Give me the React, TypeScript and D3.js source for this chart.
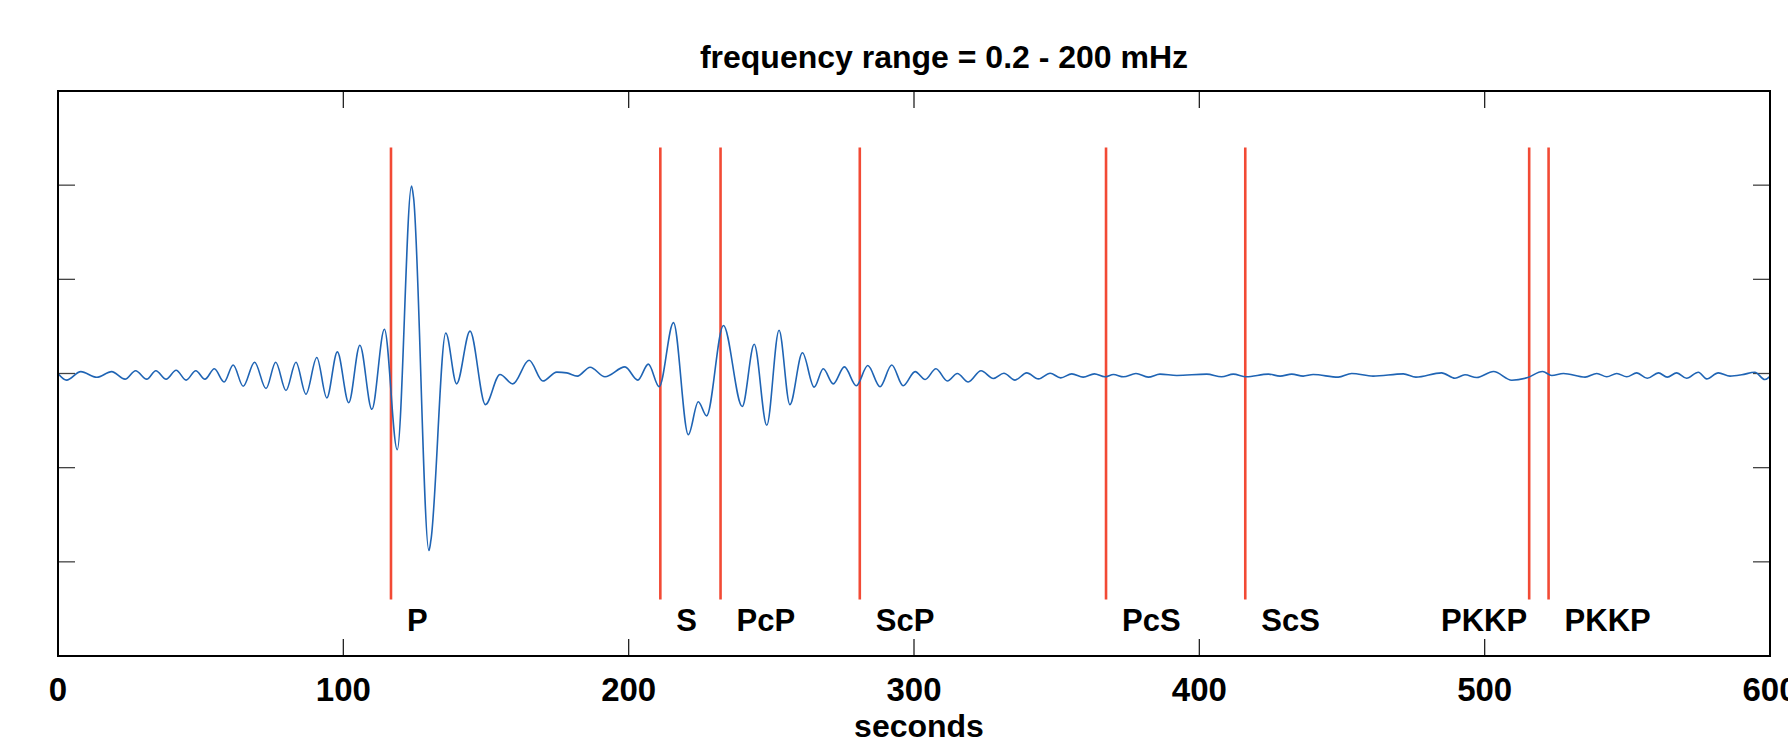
import React from "react";
import * as d3 from "d3";

// seismogram trace (seconds, amplitude in tick units)
const traceTime = [
  0, 3.0, 8.0, 13.6, 18.8, 23.5, 27.2, 31.1, 34.3, 37.9, 41.4, 44.9, 48.3, 51.5, 54.8, 58.2,
  61.4, 64.9, 68.9, 72.9, 76.3, 79.9, 83.4, 86.9, 90.7, 94.2, 97.9,
  101.9, 105.8, 110.0, 114.4, 118.9, 123.9, 124.6, 130.0, 130.7, 135.9, 139.7, 144.4, 149.8,
  154.9, 159.4, 165.1, 169.9, 174.8, 178.3,
  182.0, 186.5, 191.7, 198.7, 203.2, 206.9, 210.7, 215.7, 220.9, 224.4, 227.3, 233.2, 239.8,
  244.0, 248.4, 252.7, 256.5, 260.9, 265.0, 268.2, 271.7, 275.6, 279.8, 283.8, 288.1, 292.2, 296.2,
  300.4, 303.9, 307.7, 311.7, 315.2, 319.0, 323.5, 327.8, 331.5, 335.4, 339.5, 343.6, 347.7,
  351.4, 355.3, 359.3, 363.2, 366.9, 369.9, 373.4, 377.8, 382.1,
  386.2, 392.1, 402.6, 407.8, 411.9, 416.4, 424.2, 428.3, 432.4, 436.4, 439.9, 448.7, 453.4,
  460.9, 471.5, 475.9, 484.9, 489.6,
  493.1, 497.2, 503.1, 509.5, 514.8, 520.3, 523.5, 527.6, 535.2, 539.3, 542.8, 546.3, 549.8,
  553.3, 557.0, 560.9, 564.0, 567.3, 570.8, 574.9, 577.8, 581.9, 586.0, 590.1, 594.7, 598.2, 600,
];
const traceAmp = [
  0.0, -0.07, 0.02, -0.04, 0.02, -0.06, 0.03, -0.06, 0.03, -0.06, 0.035, -0.07, 0.03, -0.06, 0.05, -0.09,
  0.09, -0.135, 0.12, -0.16, 0.12, -0.18, 0.12, -0.22, 0.17, -0.26, 0.23,
  -0.31, 0.3, -0.38, 0.47, -0.81, 1.99, 1.87, -1.88, -1.77, 0.43, -0.11, 0.45, -0.33,
  -0.01, -0.11, 0.14, -0.08, 0.015, 0.007,
  -0.028, 0.067, -0.035, 0.07, -0.07, 0.1, -0.14, 0.54, -0.65, -0.3, -0.45, 0.51, -0.35,
  0.31, -0.55, 0.46, -0.33, 0.22, -0.145, 0.05, -0.11, 0.07, -0.13, 0.085, -0.14, 0.09, -0.13,
  0.02, -0.064, 0.05, -0.08, 0.0, -0.09, 0.03, -0.053, 0.003, -0.07, 0.007, -0.057, 0.003,
  -0.046, -0.004, -0.039, -0.004, -0.035, -0.011, -0.035, 0.0, -0.039,
  -0.007, -0.021, -0.007, -0.035, -0.007, -0.035, -0.007, -0.028, -0.007, -0.028, -0.011, -0.039, 0.0,
  -0.028, -0.004, -0.039, 0.007, -0.05,
  -0.014, -0.043, 0.021, -0.071, -0.046, 0.021, -0.021, 0.0, -0.039, 0.0, -0.035, 0.0, -0.035,
  0.007, -0.05, 0.007, -0.039, 0.007, -0.05, 0.014, -0.057, 0.007, -0.028, -0.014, 0.014, -0.064, -0.03,
];

// predicted arrivals
const phaseNames = ["P", "S", "PcP", "ScP", "PcS", "ScS", "PKKP", "PKKP"];
const phaseTimes = [116.7, 211.1, 232.2, 281.0, 367.3, 416.1, 515.6, 522.4];

const xTicks = [0, 100, 200, 300, 400, 500, 600];
const yTicks = [-2, -1, 0, 1, 2];

const title = "frequency range = 0.2 - 200 mHz";
const xLabel = "seconds";

const W = 1788;
const H = 744;
const margin = { top: 91, right: 18, bottom: 88, left: 58 };
const FONT = "'Liberation Sans', Arial, Helvetica, sans-serif";

const App = () => {
  const x = d3.scaleLinear().domain([0, 600]).range([margin.left, W - margin.right]);
  const y = d3.scaleLinear().domain([-3, 3]).range([H - margin.bottom, margin.top]);

  const pts = traceTime.map((t, i) => [t, traceAmp[i]] as [number, number]);
  const line = d3.line<[number, number]>()
    .x(d => x(d[0]))
    .y(d => y(d[1]))
    .curve(d3.curveMonotoneX);

  const x0 = x(0), x1 = x(600), yT = y(3), yB = y(-3);
  const tick = 17;

  return (
    <svg width={W} height={H} style={{ position: "absolute", left: 0, top: 0, background: "#fff" }}
      fontFamily={FONT} fontWeight="bold">
      <defs>
        <clipPath id="plot">
          <rect x={x0} y={yT} width={x1 - x0} height={yB - yT} />
        </clipPath>
      </defs>

      <text x={944} y={68} textAnchor="middle" fontSize={32}>{title}</text>

      {/* inward ticks */}
      {xTicks.filter(t => t > 0 && t < 600).map(t => (
        <g key={"xt" + t} stroke="#222" strokeWidth={1.3}>
          <line x1={x(t)} x2={x(t)} y1={yB} y2={yB - tick} />
          <line x1={x(t)} x2={x(t)} y1={yT} y2={yT + tick} />
        </g>
      ))}
      {yTicks.map(v => (
        <g key={"yt" + v} stroke="#444" strokeWidth={1.3}>
          <line x1={x0} x2={x0 + tick} y1={y(v)} y2={y(v)} />
          <line x1={x1} x2={x1 - tick} y1={y(v)} y2={y(v)} />
        </g>
      ))}

      {/* phase markers */}
      {phaseTimes.map((t, i) => (
        <line key={"ph" + i} x1={x(t)} x2={x(t)} y1={y(2.4)} y2={y(-2.4)}
          stroke="#f24a35" strokeWidth={2.6} />
      ))}

      <path d={line(pts) || ""} fill="none" stroke="#1f64b4" strokeWidth={1.6}
        strokeLinejoin="round" clipPath="url(#plot)" />

      {phaseNames.map((name, i) => {
        // crowded pair: put the earlier label on the left of its line
        const next = phaseTimes[i + 1];
        const left = next !== undefined && x(next) - x(phaseTimes[i]) < 30;
        return (
          <text key={"pl" + i} x={left ? x(phaseTimes[i]) - 2 : x(phaseTimes[i]) + 16} y={631}
            textAnchor={left ? "end" : "start"} fontSize={31}>{name}</text>
        );
      })}

      <rect x={x0} y={yT} width={x1 - x0} height={yB - yT} fill="none" stroke="#000" strokeWidth={2} />

      {xTicks.map(t => (
        <text key={"xl" + t} x={x(t)} y={701} textAnchor="middle" fontSize={33}>{t}</text>
      ))}
      <text x={919} y={737} textAnchor="middle" fontSize={32}>{xLabel}</text>
    </svg>
  );
};

export default App;
